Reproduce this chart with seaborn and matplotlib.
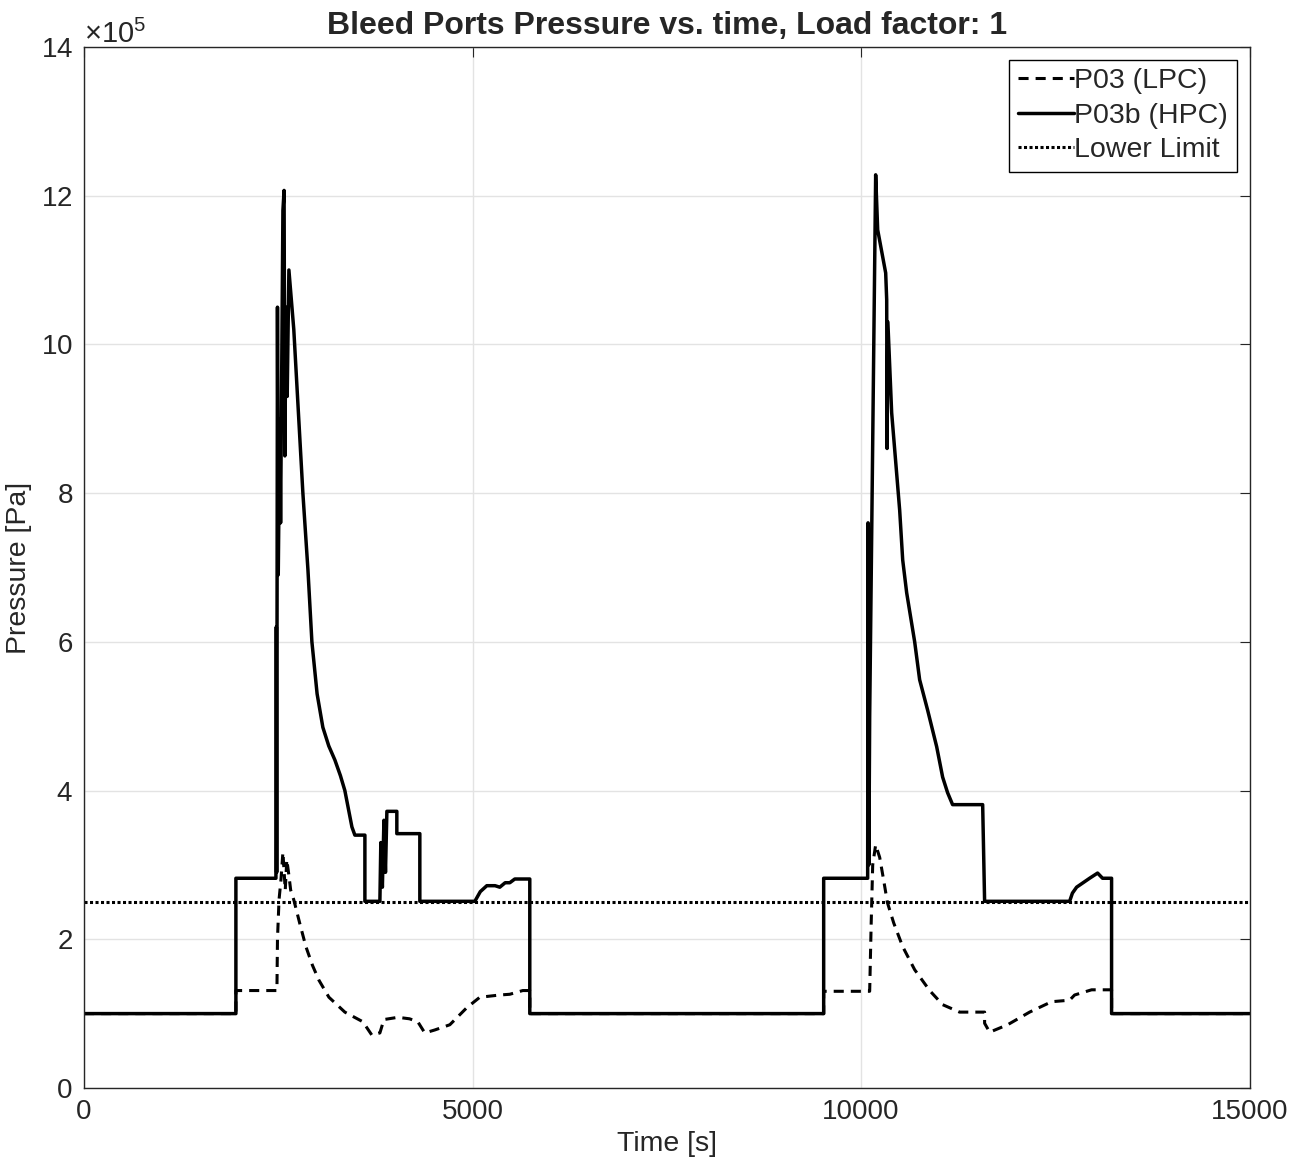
import numpy as np
import pandas as pd
import matplotlib
matplotlib.use("Agg")
import matplotlib.pyplot as plt
import seaborn as sns
from matplotlib.ticker import ScalarFormatter

# %% data (time in s, pressure in 1e5 Pa)
t_hpc = [0, 1955, 1955, 2470, 2475, 2480, 2490, 2500, 2520, 2530, 2560, 2575, 2585,
         2600, 2615, 2637, 2700, 2817, 2882, 2933, 3000, 3074, 3150, 3229, 3300,
         3357, 3448, 3486, 3615, 3615, 3808, 3820, 3840, 3860, 3880, 3898, 4026,
         4026, 4322, 4322, 5030, 5100, 5184, 5290, 5351, 5420, 5480, 5544, 5737,
         5737, 9519, 9519, 10085, 10090, 10100, 10111, 10188, 10214, 10317, 10330,
         10335, 10345, 10394, 10497, 10536, 10587, 10690, 10754, 10857, 10973,
         11050, 11114, 11178, 11565, 11590, 12684, 12720, 12774, 12941, 13044,
         13108, 13224, 13224, 15000]
p_hpc = [1.0, 1.0, 2.82, 2.82, 6.2, 2.9, 10.5, 6.9, 9.0, 7.6, 11.8, 12.07, 8.5,
         10.5, 9.3, 11.0, 10.2, 8.0, 6.97, 6.0, 5.3, 4.85, 4.6, 4.41, 4.2,
         4.0, 3.51, 3.40, 3.40, 2.51, 2.51, 3.3, 2.7, 3.6, 2.9, 3.72, 3.72,
         3.42, 3.42, 2.51, 2.51, 2.64, 2.72, 2.72, 2.70, 2.76, 2.76, 2.81, 2.81,
         1.0, 1.0, 2.82, 2.82, 7.6, 3.0, 5.0, 12.28, 11.54, 10.96, 10.6,
         8.6, 10.3, 9.08, 7.77, 7.10, 6.66, 6.0, 5.49, 5.08, 4.59,
         4.18, 3.97, 3.81, 3.81, 2.51, 2.51, 2.62, 2.70, 2.82, 2.89,
         2.82, 2.82, 1.0, 1.0]

t_lpc = [0, 1955, 1955, 2483, 2490, 2510, 2535, 2560, 2590, 2610, 2637, 2660,
         2700, 2780, 2856, 2940, 3023, 3152, 3357, 3589, 3705, 3808, 3860, 4040,
         4190, 4296, 4386, 4515, 4708, 4927, 5094, 5351, 5480, 5647, 5737, 5737,
         9519, 9519, 10111, 10130, 10150, 10188, 10240, 10290, 10340, 10420,
         10536, 10690, 10883, 11050, 11268, 11449, 11590, 11590, 11655, 11886,
         12169, 12452, 12684, 12748, 12967, 13224, 13224, 15000]
p_lpc = [1.0, 1.0, 1.31, 1.31, 2.0, 2.53, 2.8, 3.17, 2.66, 3.07, 2.86, 2.66,
         2.53, 2.2, 1.90, 1.65, 1.45, 1.22, 1.02, 0.89, 0.71, 0.74, 0.92, 0.95,
         0.93, 0.89, 0.74, 0.78, 0.85, 1.08, 1.22, 1.25, 1.26, 1.31, 1.31, 1.0,
         1.0, 1.30, 1.30, 2.2, 3.0, 3.27, 3.1, 2.8, 2.49, 2.22,
         1.90, 1.59, 1.31, 1.12, 1.02, 1.02, 1.02, 0.87, 0.75, 0.85,
         1.02, 1.16, 1.18, 1.25, 1.32, 1.32, 1.0, 1.0]

t_limit = [0, 15000]
p_limit = [2.5, 2.5]

df_hpc = pd.DataFrame({"t": t_hpc, "p": np.array(p_hpc) * 1e5})
df_lpc = pd.DataFrame({"t": t_lpc, "p": np.array(p_lpc) * 1e5})
df_lim = pd.DataFrame({"t": t_limit, "p": np.array(p_limit) * 1e5})

# %% plot
sns.set_style("white")
plt.rcParams['font.family'] = ['Liberation Sans', 'DejaVu Sans']
plt.rcParams['mathtext.fontset'] = 'custom'
plt.rcParams['mathtext.rm'] = 'Liberation Sans'

fig = plt.figure(figsize=(12.98, 11.73), dpi=100)
ax = fig.add_axes([0.0647, 0.0725, 0.898, 0.8875])

sns.lineplot(data=df_lpc, x="t", y="p", ax=ax, sort=False, estimator=None,
             color="black", lw=2.2, label="P03 (LPC)")
ax.lines[-1].set_dashes([3.3, 2.3])
sns.lineplot(data=df_hpc, x="t", y="p", ax=ax, sort=False, estimator=None,
             color="black", lw=2.5, label="P03b (HPC)")
sns.lineplot(data=df_lim, x="t", y="p", ax=ax, sort=False, estimator=None,
             color="black", lw=2.2, label="Lower Limit")
ax.lines[-1].set_dashes([1, 0.8])

ax.set_xlim(0, 15000)
ax.set_ylim(0, 14e5)
ax.set_xticks([0, 5000, 10000, 15000])
ax.set_yticks(np.arange(0, 15e5, 2e5))
fmt = ScalarFormatter(useMathText=True)
fmt.set_powerlimits((5, 5))
ax.yaxis.set_major_formatter(fmt)
ax.yaxis.get_offset_text().set_fontsize(21)
ax.yaxis.get_offset_text().set_color("#262626")

ax.grid(True, color="#e3e3e3", lw=1)
ax.tick_params(axis="both", direction="in", top=True, right=True,
               labelsize=20, colors="#262626", length=7, pad=8)
for s in ax.spines.values():
    s.set_color("#262626")
    s.set_linewidth(1)

ax.set_title("Bleed Ports Pressure vs. time, Load factor: 1", fontsize=23,
             fontweight="bold", pad=9)
ax.set_xlabel("Time [s]", fontsize=20.5, color="#262626", labelpad=4)
ax.set_ylabel("Pressure [Pa]", fontsize=20.5, color="#262626", labelpad=6)

leg = ax.legend(loc="upper right", fontsize=20.5, frameon=True, fancybox=False,
                edgecolor="black", framealpha=1, handlelength=2.0, handletextpad=0.0,
                borderpad=0.3, labelspacing=0.3, borderaxespad=0.45)
leg.get_frame().set_linewidth(1)

fig.savefig("out.png", dpi=100)
